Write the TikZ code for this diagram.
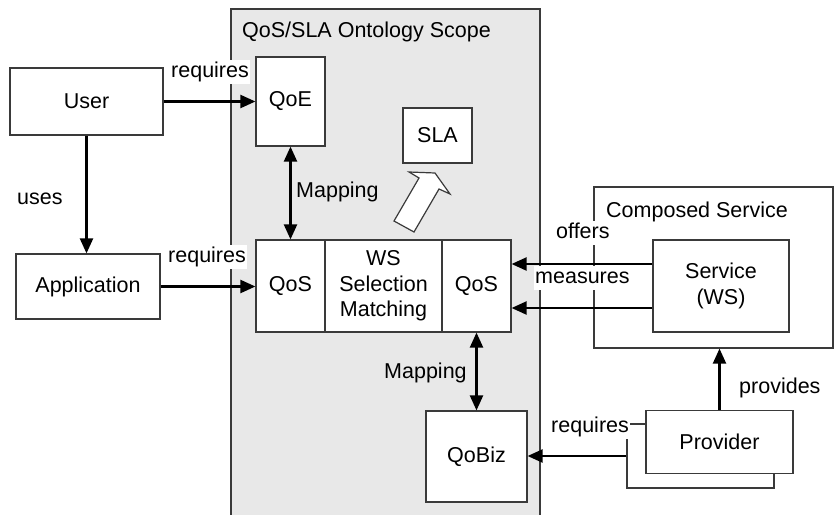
\documentclass[tikz,border=0pt]{standalone}
\usepackage{fontspec}
\setmainfont{Liberation Sans}
\usetikzlibrary{arrows.meta,calc}
\definecolor{scopegray}{HTML}{E8E8E8}
\definecolor{edge}{HTML}{3A3A3A}
\begin{document}
\begin{tikzpicture}[x=1pt,y=-1pt,
  every node/.style={font=\fontsize{21.5}{25.5}\selectfont},
  box/.style={draw=edge, line width=1.2pt, fill=white, inner sep=0pt, align=center},
  arr/.style={line width=2.2pt, -{Triangle[length=15pt,width=13pt]}},
  dbl/.style={line width=2.2pt, {Triangle[length=15pt,width=13pt]}-{Triangle[length=15pt,width=13pt]}},
  lbl/.style={anchor=base west, inner xsep=1pt, inner ysep=2pt, fill=white, text height=15.5pt, text depth=4.5pt},
  plain/.style={anchor=base west, inner sep=1pt}]
\useasboundingbox (0,0) rectangle (834,514);
% scope
\fill[scopegray] (231,9) rectangle (540,520);
\draw[edge, line width=1.2pt] (231,520) -- (231,9) -- (540,9) -- (540,520);
\node[plain] (scopet) at (241,37) {QoS/SLA Ontology Scope};
% composed service
\node[box, minimum width=239pt, minimum height=161pt] (comp) at (713.5,267.5) {};
\node[plain] (compt) at (605,217) {Composed Service};
% boxes
\node[box, minimum width=153pt, minimum height=67pt] (user) at (86.5,101.5) {User};
\node[box, minimum width=144pt, minimum height=65pt] (app) at (88,286.5) {Application};
\node[box, minimum width=69pt, minimum height=89pt] (qoe) at (290.5,101.5) {QoE};
\node[box, minimum width=69pt, minimum height=92pt] (qosL) at (290.5,286) {QoS};
\node[box, minimum width=117pt, minimum height=92pt] (ws) at (383.5,286) {WS\\Selection\\Matching};
\node[box, minimum width=69pt, minimum height=92pt] (qosR) at (476.5,286) {QoS};
\node[box, minimum width=69pt, minimum height=55pt] (sla) at (437.5,135.5) {SLA};
\node[box, minimum width=136pt, minimum height=92pt] (service) at (721,286) {Service\\(WS)};
\node[box, minimum width=147pt, minimum height=64pt] (provb) at (700.5,456) {};
\node[box, minimum width=147pt, minimum height=63pt] (provf) at (719.5,442) {Provider};
\node[box, minimum width=101pt, minimum height=91pt] (qobiz) at (476.5,456.5) {QoBiz};
% SLA hollow arrow
\draw[edge, line width=1.2pt, fill=white, line join=miter]
  (394,221) -- (419,178) -- (409,172) -- (435,173) -- (450,194) -- (439,189) -- (414,232) -- cycle;
% connectors
\draw[arr] (user.east) -- (user.east -| qoe.west);
\draw[arr] (user.south) -- (user.south |- app.north);
\draw[arr] (app.east) -- (app.east -| qosL.west);
\draw[dbl] (qoe.south) -- (qosL.north);
\draw[dbl] (qosR.south) -- (qobiz.north);
\draw[arr] ([yshift=22pt]service.west) -- ([yshift=22pt]qosR.east);
\draw[arr] ([yshift=-22pt]service.west) -- ([yshift=-22pt]qosR.east);
\draw[arr] (provb.west) -- (provb.west -| qobiz.east);
\draw[arr] (provf.north) -- (provf.north |- comp.south);
% labels
\node[lbl] (rq1) at (170,77) {requires};
\node[plain] (uses) at (16,204) {uses};
\node[plain] (map1) at (295,197) {Mapping};
\node[lbl] (rq2) at (167,262) {requires};
\node[lbl] (offers) at (555,238) {offers};
\node[lbl] (meas) at (534,283) {measures};
\node[plain] (map2) at (383,378) {Mapping};
\node[plain] (prov) at (738,393) {provides};
\node[lbl] (rq3) at (550,432) {requires};
\end{tikzpicture}
\end{document}
